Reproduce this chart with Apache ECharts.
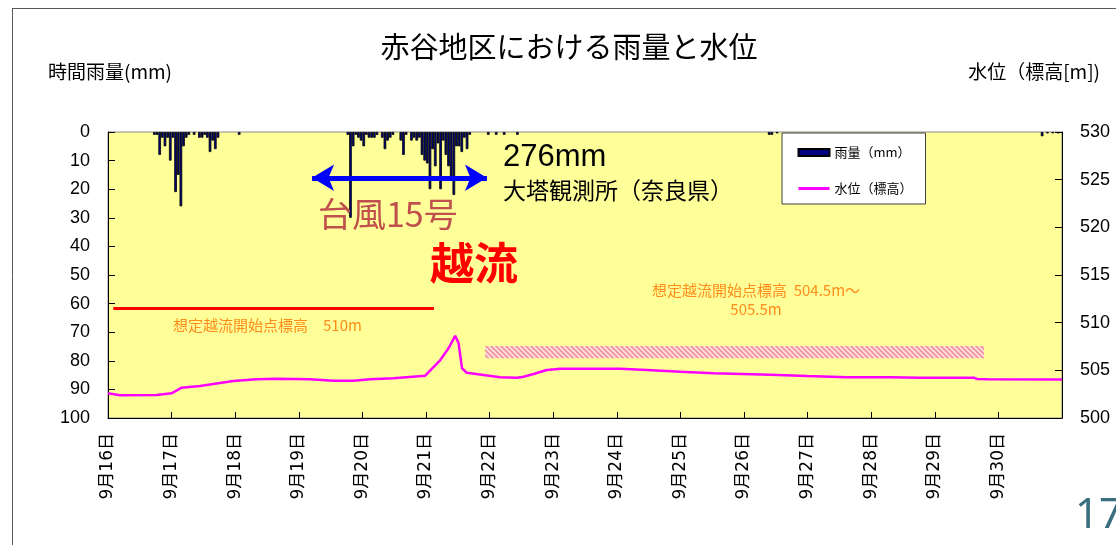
<!DOCTYPE html>
<html>
<head>
<meta charset="utf-8">
<script src="https://cdn.jsdelivr.net/npm/echarts@6/dist/echarts.min.js"></script>
<style>
  html, body { margin: 0; padding: 0; background: #ffffff; }
  #chart { width: 1116px; height: 545px; }
</style>
</head>
<body>
<div id="chart"></div>
<script>
// Day tick labels (one tick every 24 hours, starting 9/16 00:00)
const dayLabels = ['9月16日', '9月17日', '9月18日', '9月19日', '9月20日', '9月21日', '9月22日', '9月23日',
                   '9月24日', '9月25日', '9月26日', '9月27日', '9月28日', '9月29日', '9月30日'];
const totalHours = 360;

// Hourly rainfall at 大塔観測所 (hour index from 9/16 0:00, mm)
const rainHour = [17, 18, 19, 20, 21, 22, 23,
                  24, 25, 26, 27, 28, 29, 30, 32, 34, 35, 36, 37, 38, 39, 40, 41,
                  49,
                  90, 91, 92, 93, 94, 95, 96, 97, 98, 99, 100, 101, 103, 104, 105, 106, 107, 110, 111, 112, 114, 115, 116, 117,
                  118, 119, 120, 121, 122, 123, 124, 125, 126, 127, 128, 129, 130, 131, 132, 133, 134, 135, 136,
                  143, 146, 149, 154,
                  249, 250, 252,
                  352, 354, 356, 358];
const rainMm = [1, 1, 8, 2, 5, 2, 10,
                2, 21, 15, 26, 5, 2, 1, 1, 2, 2, 1, 2, 7, 3, 6, 2,
                1,
                1, 30, 5, 1, 2, 3, 5, 1, 2, 2, 2, 1, 2, 6, 3, 2, 1, 3, 8, 1, 3, 2, 3, 2,
                8, 10, 11, 20, 6, 12, 4, 20, 3, 8, 12, 16, 22, 5, 5, 7, 2, 6, 1,
                1, 1, 1, 1,
                1, 1, 0.5,
                1.5, 0.5, 0.5, 0.5];

// Water level (標高, m) sampled along the record (hour index, m)
const levelHour = [0, 4.5, 18.4, 24, 27.8, 34.7, 47.3, 56.1, 63.7, 76.3, 85, 92.6, 98.9, 107.7, 119.7,
                   125.4, 128.5, 131, 132.3, 133.6, 135.4, 141.7, 148, 154.3, 156.8, 160.6, 165.6, 170.7,
                   193.3, 203.4, 215.9, 228.5, 249.9, 263.8, 278.9, 295.3, 306.6, 326.7, 328, 331.8, 360];
const levelM = [502.59, 502.38, 502.41, 502.59, 503.18, 503.36, 503.88, 504.06, 504.12, 504.06, 503.91, 503.91, 504.06, 504.16, 504.44,
                506.08, 507.31, 508.63, 507.83, 505.21, 504.75, 504.51, 504.27, 504.23, 504.33, 504.61, 505.03, 505.17,
                505.17, 505.03, 504.86, 504.69, 504.54, 504.40, 504.27, 504.27, 504.23, 504.23, 504.09, 504.06, 504.04];

// Full hourly rain array for the category axis (empty hours stay blank)
const rainSeries = new Array(totalHours).fill(null);
rainHour.forEach((h, i) => { rainSeries[h] = rainMm[i]; });
const hourCats = Array.from({ length: totalHours }, (_, i) => String(i));
const levelData = levelHour.map((h, i) => [h, levelM[i]]);

// Striped fill for the assumed-overflow elevation band
function stripePattern() {
  const n = 5;
  const c = document.createElement('canvas');
  c.width = n; c.height = n;
  const g = c.getContext('2d');
  g.fillStyle = '#fde2e4';
  g.fillRect(0, 0, n, n);
  g.strokeStyle = '#f3939c';
  g.lineWidth = 1.8;
  g.beginPath();
  g.moveTo(-1, -1); g.lineTo(n + 1, n + 1);
  g.moveTo(-1, n - 1); g.lineTo(1, n + 1);
  g.moveTo(n - 1, -1); g.lineTo(n + 1, 1);
  g.stroke();
  return c;
}

const JP = '"Noto Sans CJK JP", sans-serif';
const NUM = '"Liberation Sans", Arial, sans-serif';

const chart = echarts.init(document.getElementById('chart'), null, { renderer: 'canvas' });

chart.setOption({
  animation: false,
  backgroundColor: '#ffffff',
  grid: {
    left: 108, right: 54, top: 132, bottom: 127,
    show: true, backgroundColor: '#ffff99', borderColor: '#8c8c8c', borderWidth: 1
  },
  legend: {
    orient: 'vertical',
    left: 782, top: 133,
    padding: [13, 13, 9, 15],
    itemGap: 23,
    itemWidth: 31, itemHeight: 7,
    backgroundColor: '#ffffff',
    borderColor: '#404040', borderWidth: 1,
    textStyle: { fontFamily: JP, fontSize: 13, color: '#000' },
    data: [
      { name: '雨量（mm）', icon: 'rect' },
      {
        name: '水位（標高）',
        itemStyle: { color: 'rgba(0,0,0,0)', borderColor: 'rgba(0,0,0,0)', borderWidth: 0 },
        lineStyle: { color: '#ff00ff', width: 3 }
      }
    ]
  },
  xAxis: [
    {
      type: 'category', data: hourCats, gridIndex: 0, show: false, boundaryGap: true
    },
    {
      type: 'value', gridIndex: 0, min: 0, max: totalHours, interval: 24,
      position: 'bottom',
      axisLine: { show: true, lineStyle: { color: '#000', width: 1 } },
      axisTick: { show: true, inside: true, length: 6, lineStyle: { color: '#000' } },
      splitLine: { show: false },
      axisLabel: {
        rotate: 90, margin: 15,
        fontFamily: '"DejaVu Sans", "Noto Sans CJK JP", sans-serif', fontSize: 17, color: '#000',
        formatter: v => dayLabels[v / 24] || ''
      }
    }
  ],
  yAxis: [
    {
      type: 'value', inverse: true, min: 0, max: 100, interval: 10,
      axisLine: { show: true, lineStyle: { color: '#000', width: 1 } },
      axisTick: { show: true, inside: true, length: 7, lineStyle: { color: '#000' } },
      splitLine: { show: false },
      axisLabel: { margin: 18, fontFamily: NUM, fontSize: 18, color: '#000' }
    },
    {
      type: 'value', min: 500, max: 530, interval: 5, position: 'right',
      axisLine: { show: true, lineStyle: { color: '#000', width: 1 } },
      axisTick: { show: true, inside: true, length: 7, lineStyle: { color: '#000' } },
      splitLine: { show: false },
      axisLabel: { margin: 18, fontFamily: NUM, fontSize: 18, color: '#000' }
    }
  ],
  series: [
    {
      name: '雨量（mm）', type: 'bar', xAxisIndex: 0, yAxisIndex: 0,
      data: rainSeries,
      barCategoryGap: '0%',
      itemStyle: { color: '#000080', borderColor: '#000000', borderWidth: 0.8 },
      z: 3
    },
    {
      name: '水位（標高）', type: 'line', xAxisIndex: 1, yAxisIndex: 1,
      data: levelData, symbol: 'none', smooth: false,
      lineStyle: { color: '#ff00ff', width: 2.5 },
      itemStyle: { color: '#ff00ff' },
      z: 4,
      markLine: {
        silent: true,
        label: { show: false },
        data: [
          // 想定越流開始点標高 510m guide
          [
            { coord: [2, 511.5], symbol: 'none', lineStyle: { color: '#ff0000', width: 3, type: 'solid' } },
            { coord: [123, 511.5], symbol: 'none' }
          ],
          // typhoon period arrow
          [
            { coord: [77, 525.2], symbol: 'arrow', symbolSize: [20, 22], lineStyle: { color: '#0000ff', width: 5, type: 'solid' } },
            { coord: [143, 525.2], symbol: 'arrow', symbolSize: [20, 22] }
          ]
        ]
      },
      markArea: {
        silent: true,
        label: { show: false },
        itemStyle: { color: { image: stripePattern(), repeat: 'repeat' } },
        data: [[{ coord: [142.3, 507.55] }, { coord: [330.6, 506.26] }]]
      }
    }
  ],
  graphic: [
    // slide frame
    { type: 'line', shape: { x1: 12.5, y1: 8, x2: 12.5, y2: 545 }, style: { stroke: '#5a5a5a', lineWidth: 1 }, z: 0 },
    { type: 'line', shape: { x1: 12, y1: 8.5, x2: 1116, y2: 8.5 }, style: { stroke: '#5a5a5a', lineWidth: 1 }, z: 0 },
    { type: 'text', x: 569, y: 47, style: { text: '赤谷地区における雨量と水位', font: '29px ' + JP, fill: '#000', align: 'center', verticalAlign: 'middle' } },
    { type: 'text', x: 48, y: 72, style: { text: '時間雨量(mm)', font: '19px ' + JP, fill: '#000', align: 'left', verticalAlign: 'middle' } },
    { type: 'text', x: 1100, y: 72, style: { text: '水位（標高[m])', font: '19px ' + JP, fill: '#000', align: 'right', verticalAlign: 'middle' } },
    { type: 'text', x: 503, y: 157, z: 10, style: { text: '276mm', font: '31px ' + NUM, fill: '#000', align: 'left', verticalAlign: 'middle' } },
    { type: 'text', x: 503, y: 190, z: 10, style: { text: '大塔観測所（奈良県）', font: '23px ' + JP, fill: '#000', align: 'left', verticalAlign: 'middle' } },
    { type: 'text', x: 318, y: 214, z: 10, style: { text: '台風15号', font: '34px ' + JP, fill: '#c0504d', align: 'left', verticalAlign: 'middle' } },
    { type: 'text', x: 430, y: 263, z: 10, style: { text: '越流', font: 'bold 44px ' + JP, fill: '#ff0000', align: 'left', verticalAlign: 'middle' } },
    { type: 'text', x: 173, y: 325, z: 10, style: { text: '想定越流開始点標高　510m', font: '15px ' + JP, fill: '#ff8c1a', align: 'left', verticalAlign: 'middle' } },
    { type: 'text', x: 756, y: 290, z: 10, style: { text: '想定越流開始点標高  504.5m～', font: '15px ' + JP, fill: '#ff8c1a', align: 'center', verticalAlign: 'middle' } },
    { type: 'text', x: 756, y: 309, z: 10, style: { text: '505.5m', font: '15px ' + JP, fill: '#ff8c1a', align: 'center', verticalAlign: 'middle' } },
    { type: 'text', x: 1075, y: 516, style: { text: '17', font: '42px "Noto Sans", sans-serif', fill: '#3b6f80', align: 'left', verticalAlign: 'middle' } }
  ]
});
</script>
</body>
</html>
